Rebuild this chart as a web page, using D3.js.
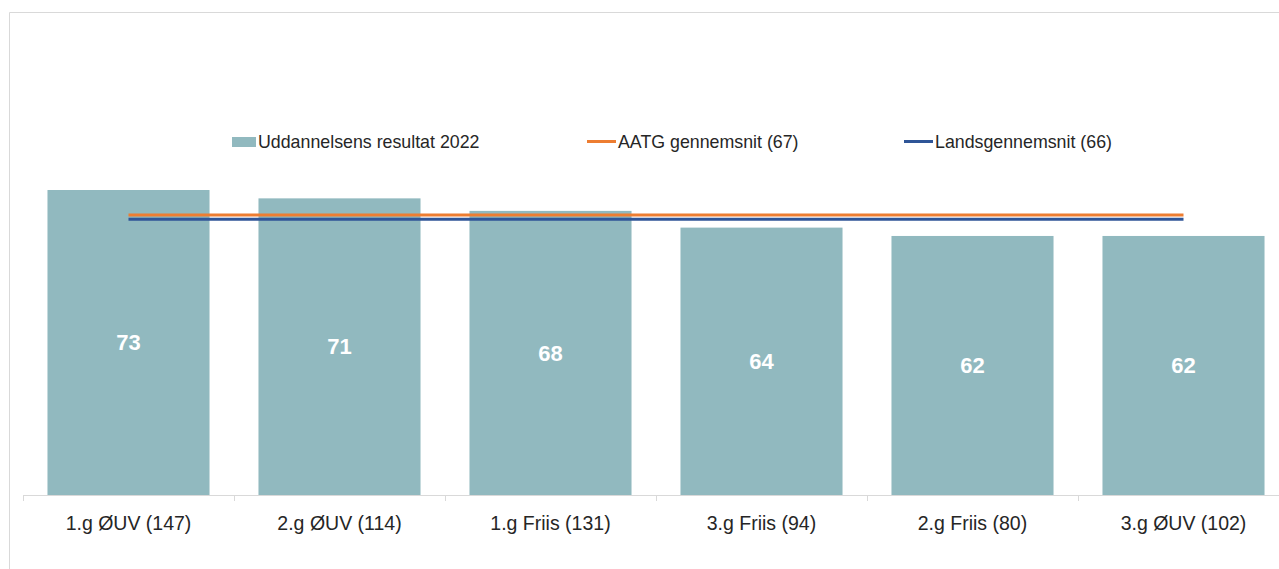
<!DOCTYPE html>
<html>
<head>
<meta charset="utf-8">
<script src="https://cdn.jsdelivr.net/npm/d3@7"></script>
<style>
  html, body { margin: 0; padding: 0; background: #fff; }
  svg { display: block; }
  text { font-family: "Liberation Sans", Arial, sans-serif; }
</style>
</head>
<body>
<svg id="chart" width="1279" height="569"></svg>
<script>
const categories = ["1.g ØUV (147)", "2.g ØUV (114)", "1.g Friis (131)", "3.g Friis (94)", "2.g Friis (80)", "3.g ØUV (102)"];
const results = [73, 71, 68, 64, 62, 62];
const aatgAvg = 67;
const landsAvg = 66;
const legendLabels = ["Uddannelsens resultat 2022", "AATG gennemsnit (67)", "Landsgennemsnit (66)"];

const W = 1279, H = 569;
const svg = d3.select("#chart");

// frame (top and left border)
svg.append("path")
  .attr("d", `M9.5,${H} L9.5,12.5 L${W},12.5`)
  .attr("fill", "none").attr("stroke", "#d9d9d9").attr("stroke-width", 1);

const x = d3.scaleBand().domain(categories).range([23, 1289]).paddingInner(0.232).paddingOuter(0.116);
const y = d3.scaleLinear().domain([0, 80]).range([495, 495 - 80 * 4.178]);

// bars
svg.append("g").selectAll("rect").data(results).join("rect")
  .attr("x", (d, i) => x(categories[i]))
  .attr("y", d => y(d))
  .attr("width", x.bandwidth())
  .attr("height", d => y(0) - y(d))
  .attr("fill", "#91b9bf");

// value labels
svg.append("g").selectAll("text").data(results).join("text")
  .attr("x", (d, i) => x(categories[i]) + x.bandwidth() / 2)
  .attr("y", d => (y(d) + y(0)) / 2)
  .attr("dy", "0.35em")
  .attr("text-anchor", "middle")
  .attr("fill", "#fff")
  .attr("font-weight", "bold")
  .attr("font-size", 22)
  .text(d => d);

// x axis
const step = x.step();
const axisG = svg.append("g");
axisG.append("line")
  .attr("x1", 23).attr("x2", 1289).attr("y1", 495.5).attr("y2", 495.5)
  .attr("stroke", "#d9d9d9");
const bounds = d3.range(categories.length + 1).map(i => x(categories[0]) - x.paddingOuter() * step + i * step);
axisG.selectAll("line.tick").data(bounds).join("line").attr("class", "tick")
  .attr("x1", d => Math.round(d) + 0.5).attr("x2", d => Math.round(d) + 0.5)
  .attr("y1", 495).attr("y2", 501)
  .attr("stroke", "#d9d9d9");
axisG.selectAll("text").data(categories).join("text")
  .attr("x", d => x(d) + x.bandwidth() / 2)
  .attr("y", 523)
  .attr("dy", "0.35em")
  .attr("text-anchor", "middle")
  .attr("fill", "#262626")
  .attr("font-size", 19.5)
  .text(d => d);

// average lines
const xStart = x(categories[0]) + x.bandwidth() / 2;
const xEnd = x(categories[categories.length - 1]) + x.bandwidth() / 2;
svg.append("line")
  .attr("x1", xStart).attr("x2", xEnd).attr("y1", y(landsAvg)).attr("y2", y(landsAvg))
  .attr("stroke", "#2f5597").attr("stroke-width", 3);
svg.append("line")
  .attr("x1", xStart).attr("x2", xEnd).attr("y1", y(aatgAvg)).attr("y2", y(aatgAvg))
  .attr("stroke", "#ed7d31").attr("stroke-width", 3);

// legend
const leg = svg.append("g");
const legX = [232, 587, 904];
leg.append("rect").attr("x", legX[0]).attr("y", 137).attr("width", 24).attr("height", 10).attr("fill", "#91b9bf");
leg.append("line").attr("x1", legX[1]).attr("x2", legX[1] + 29).attr("y1", 141.5).attr("y2", 141.5)
  .attr("stroke", "#ed7d31").attr("stroke-width", 3);
leg.append("line").attr("x1", legX[2]).attr("x2", legX[2] + 29).attr("y1", 141.5).attr("y2", 141.5)
  .attr("stroke", "#2f5597").attr("stroke-width", 3);
leg.selectAll("text").data(legendLabels).join("text")
  .attr("x", (d, i) => legX[i] + (i === 0 ? 26 : 31))
  .attr("y", 142)
  .attr("dy", "0.35em")
  .attr("fill", "#262626")
  .attr("font-size", 17.8)
  .text(d => d);
</script>
</body>
</html>
